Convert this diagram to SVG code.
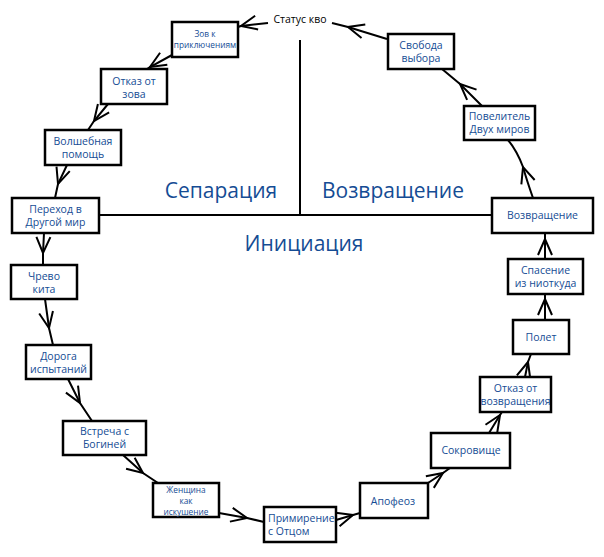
<svg xmlns="http://www.w3.org/2000/svg" width="604" height="557" viewBox="0 0 604 557">
<style>
.box{fill:#fff;stroke:#000;stroke-width:2.5}
.t{font-family:"Open Sans","Noto Sans",sans-serif;font-size:10.5px;fill:#154c94;text-anchor:middle}
.s{font-size:8.3px}
.l{text-anchor:start}
.big{font-family:"Open Sans","Noto Sans",sans-serif;font-size:21px;fill:#154c94;text-anchor:middle}
.c{fill:none;stroke:#000;stroke-width:2;marker-mid:url(#ah)}
.axis{stroke:#000;stroke-width:2;fill:none}
</style>
<defs>
<marker id="ah" markerUnits="userSpaceOnUse" viewBox="-20 -10 24 20" refX="0" refY="0" markerWidth="24" markerHeight="20" orient="auto">
<path d="M-16,-7 L0,0 L-16,7" fill="none" stroke="#000" stroke-width="2"/>
</marker>
</defs>
<rect width="604" height="557" fill="#fff"/>
<g id="axes">
<path class="axis" d="M300,40 V215"/>
<path class="axis" d="M99,215 H492"/>
</g>
<g id="labels">
<text class="big" x="221" y="198">Сепарация</text>
<text class="big" x="393" y="198">Возвращение</text>
<text class="big" x="304" y="251">Инициация</text>
</g>
<g id="connectors">
<path class="c" d="M268,23 L241,26 L238,27"/>
<path class="c" d="M172,55 L150,67 L147,69"/>
<path class="c" d="M108,104 L94,121 L88,130"/>
<path class="c" d="M67,165 L58,184 L55,198"/>
<path class="c" d="M44,233 L43,253 L43,265"/>
<path class="c" d="M45,299 L49,328 L53,345"/>
<path class="c" d="M68,379 L80,403 L92,421"/>
<path class="c" d="M123,455 L143,473 L158,483"/>
<path class="c" d="M219,513 L247,518 L264,522"/>
<path class="c" d="M336,520 L353,515 L360,513"/>
<path class="c" d="M428,483 L443,473 L450,468"/>
<path class="c" d="M489,433 L500,415 L502,412"/>
<path class="c" d="M525,377 L528,362 L531,354"/>
<path class="c" d="M545,320 L545,299 L545,294"/>
<path class="c" d="M545,259 L545,239 L545,233"/>
<path class="c" d="M533,198 Q527,181 523,167 Q517,151 508,140"/>
<path class="c" d="M482,106 L460,84 L442,69"/>
<path class="c" d="M387,39 L348,27 L332,23"/>
</g>
<g id="status-quo">
<text x="300" y="23" font-family="'Open Sans','Noto Sans',sans-serif" font-size="10.5" fill="#000" text-anchor="middle">Статус кво</text>
</g>
<g id="n-zov">
<rect class="box" x="172" y="22" width="66" height="35"/>
<text class="t s" x="205" y="37">Зов к</text>
<text class="t s" x="205" y="48">приключениям</text>
</g>
<g id="n-otkaz">
<rect class="box" x="101" y="69" width="66" height="35"/>
<text class="t" x="134" y="85">Отказ от</text>
<text class="t" x="134" y="98">зова</text>
</g>
<g id="n-pomosh">
<rect class="box" x="45" y="130" width="76" height="35"/>
<text class="t" x="83" y="145">Волшебная</text>
<text class="t" x="83" y="158">помощь</text>
</g>
<g id="n-perehod">
<rect class="box" x="12" y="198" width="87" height="35"/>
<text class="t" x="55.5" y="213">Переход в</text>
<text class="t" x="55.5" y="226">Другой мир</text>
</g>
<g id="n-chrevo">
<rect class="box" x="11" y="265" width="66" height="34"/>
<text class="t" x="44" y="280">Чрево</text>
<text class="t" x="44" y="293">кита</text>
</g>
<g id="n-doroga">
<rect class="box" x="26" y="345" width="65" height="34"/>
<text class="t" x="58.5" y="360">Дорога</text>
<text class="t" x="58.5" y="373">испытаний</text>
</g>
<g id="n-vstrecha">
<rect class="box" x="63" y="421" width="83" height="34"/>
<text class="t" x="104.5" y="435">Встреча с</text>
<text class="t" x="104.5" y="448">Богиней</text>
</g>
<g id="n-zhenshina">
<rect class="box" x="153" y="483" width="66" height="34"/>
<text class="t s" x="186" y="493">Женщина</text>
<text class="t s" x="186" y="504">как</text>
<text class="t s" x="186" y="515">искушение</text>
</g>
<g id="n-primirenie">
<rect class="box" x="264" y="507" width="72" height="35"/>
<text class="t l" x="268" y="522">Примирение</text>
<text class="t l" x="268" y="535">с Отцом</text>
</g>
<g id="n-apofeoz">
<rect class="box" x="360" y="483" width="68" height="35"/>
<text class="t" x="393" y="505">Апофеоз</text>
</g>
<g id="n-sokrovishe">
<rect class="box" x="431" y="433" width="79" height="35"/>
<text class="t" x="471" y="454">Сокровище</text>
</g>
<g id="n-otkaz-vozvr">
<rect class="box" x="480" y="377" width="71" height="35"/>
<text class="t" x="515.5" y="392">Отказ от</text>
<text class="t" x="515.5" y="405">возвращения</text>
</g>
<g id="n-polet">
<rect class="box" x="513" y="320" width="56" height="34"/>
<text class="t" x="541" y="341">Полет</text>
</g>
<g id="n-spasenie">
<rect class="box" x="508" y="259" width="75" height="35"/>
<text class="t" x="545.5" y="274">Спасение</text>
<text class="t" x="545.5" y="287">из ниоткуда</text>
</g>
<g id="n-vozvrashenie">
<rect class="box" x="492" y="198" width="101" height="35"/>
<text class="t" x="542.5" y="219">Возвращение</text>
</g>
<g id="n-povelitel">
<rect class="box" x="464" y="106" width="71" height="34"/>
<text class="t" x="499.5" y="120">Повелитель</text>
<text class="t" x="499.5" y="133">Двух миров</text>
</g>
<g id="n-svoboda">
<rect class="box" x="388" y="34" width="66" height="35"/>
<text class="t" x="421" y="49">Свобода</text>
<text class="t" x="421" y="62">выбора</text>
</g>
</svg>
